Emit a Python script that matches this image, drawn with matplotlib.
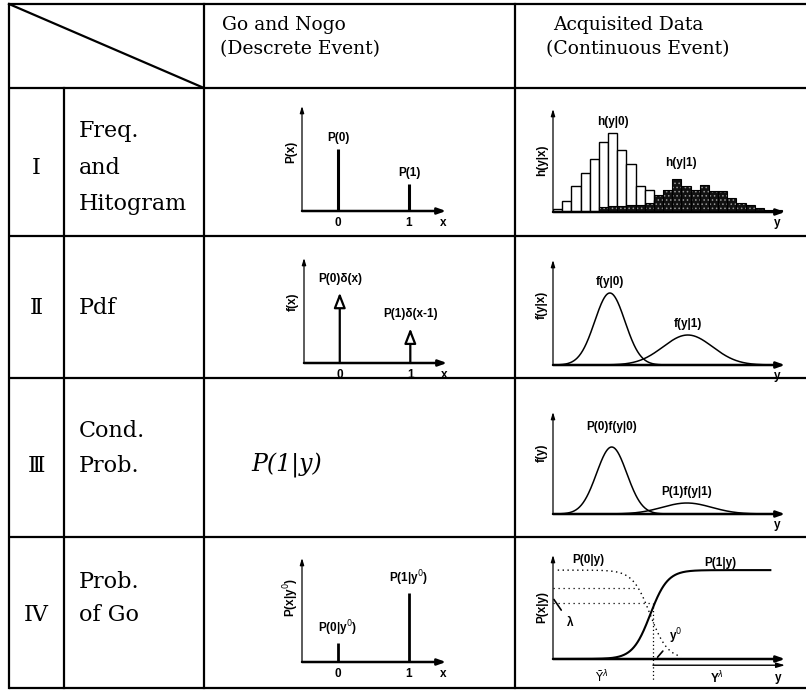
import numpy as np
import matplotlib
matplotlib.use("Agg")
import matplotlib.pyplot as plt

W, H, DPI = 806, 691, 100

# ---------------- data ----------------
header_go = ["Go and Nogo", "(Descrete Event)"]
header_acq = ["Acquisited Data", "(Continuous Event)"]
row_numerals = ["I", "Ⅱ", "Ⅲ", "IV"]
row_labels = [["Freq.", "and", "Hitogram"], ["Pdf"], ["Cond.", "Prob."], ["Prob.", "of Go"]]

go_x = [0, 1]
go_freq = [0.59, 0.26]          # P(0), P(1)
go_delta = [0.67, 0.33]         # P(0)d(x), P(1)d(x-1)
go_post = [0.18, 0.66]          # P(0|y0), P(1|y0)

hist_bins = list(range(25))
hist_h0 = [3, 11, 26, 39, 53, 70, 79, 62, 48, 26, 22, 12, 6, 3, 1, 0, 0, 0, 0, 0, 0, 0, 0, 0, 0]
hist_h1 = [0, 0, 0, 0, 0, 5, 6, 6, 7, 7, 9, 17, 22, 33, 26, 22, 27, 21, 21, 14, 9, 7, 4, 2, 2]

pdf_means = [6.2, 14.7]
pdf_sds = [1.65, 2.7]
pdf_peaks = [72, 30]
joint_means = [6.4, 14.6]
joint_peaks = [67, 11]

post_mid = 10.6                 # centre of the P(1|y) rise
post_width = 0.95               # spread of the rise
post_levels = [0.80, 0.63]      # dotted reference levels (second = lambda)
post_level_ends = [9.2, 10.6]
y_lambda = 10.9

# ---------------- figure ----------------
fig = plt.figure(figsize=(W / DPI, H / DPI), dpi=DPI)
fig.patch.set_facecolor("white")
tab = fig.add_axes([0, 0, 1, 1])
tab.set_xlim(0, W)
tab.set_ylim(H, 0)
tab.axis("off")

SERIF = ["DejaVu Serif", "Noto Sans CJK JP"]
SANS = dict(family=["Liberation Sans", "DejaVu Sans"], fontsize=8.5, fontweight="bold")

LX0, LX1, LX2, LX3, RX = 9, 64, 204, 515, 806
rows_y = [4, 88, 236, 378, 537, 688]
lw_t = 1.6
for yy in rows_y:
    tab.plot([LX0, RX], [yy, yy], color="black", lw=lw_t, solid_capstyle="butt")
for xx, y_start in [(LX0, 4), (LX1, 88), (LX2, 4), (LX3, 4)]:
    tab.plot([xx, xx], [y_start, 688], color="black", lw=lw_t)
tab.plot([LX0, LX2], [4, 88], color="black", lw=lw_t)

# header
tab.text(222, 25, header_go[0], family=SERIF, fontsize=13.5, ha="left", va="center")
tab.text(220, 49, header_go[1], family=SERIF, fontsize=13.5, ha="left", va="center")
tab.text(553, 25, header_acq[0], family=SERIF, fontsize=13.5, ha="left", va="center")
tab.text(546, 49, header_acq[1], family=SERIF, fontsize=13.5, ha="left", va="center")

# row labels
num_y = [168, 308, 466, 615]
label_y = [[131, 168, 204], [308], [431, 466], [582, 615]]
for i in range(4):
    tab.text((LX0 + LX1) / 2, num_y[i], row_numerals[i], family=SERIF, fontsize=16,
             ha="center", va="center")
    for s, yy in zip(row_labels[i], label_y[i]):
        tab.text(79, yy, s, family=SERIF, fontsize=16, ha="left", va="center")

tab.text(287, 465, "P(1|y)", family=SERIF, fontsize=17, style="italic", ha="center", va="center")


def px_axes(l, t, r, b, xlim, ylim):
    ax = fig.add_axes([l / W, 1 - b / H, (r - l) / W, (b - t) / H])
    ax.set_xlim(*xlim)
    ax.set_ylim(*ylim)
    ax.axis("off")
    ax.patch.set_alpha(0)
    ax.annotate("", xy=(1, 0), xytext=(0, 0), xycoords="axes fraction",
                arrowprops=dict(arrowstyle="-|>,head_length=0.5,head_width=0.18",
                                lw=1.8, color="black", shrinkA=0, shrinkB=0))
    ax.annotate("", xy=(0, 1), xytext=(0, 0), xycoords="axes fraction",
                arrowprops=dict(arrowstyle="-|>,head_length=0.4,head_width=0.12",
                                lw=0.9, color="black", shrinkA=0, shrinkB=0))
    return ax


def ylab(ax, s, frac):
    ax.annotate(s, xy=(0, frac), xycoords="axes fraction", xytext=(-11, 0),
                textcoords="offset pixels", rotation=90, ha="center", va="center", **SANS)


def below(ax, x, s, off=-6):
    ax.annotate(s, xy=(x, 0), xytext=(0, off), textcoords="offset pixels",
                ha="center", va="top", annotation_clip=False, **SANS)


GO_XLIM = (-0.507, 1.52)
R_XLIM = (0, 25.3)

# ---- Row I, Go ----
ax = px_axes(302, 106, 446, 211, GO_XLIM, (0, 1))
ax.vlines(go_x, 0, go_freq, color="black", lw=2.2)
for x, v, s in zip(go_x, go_freq, ["P(0)", "P(1)"]):
    ax.annotate(s, xy=(x, v), xytext=(0, 5), textcoords="offset pixels", ha="center", va="bottom", **SANS)
below(ax, 0, "0"); below(ax, 1, "1"); below(ax, 1.48, "x")
ylab(ax, "P(x)", 0.56)

# ---- Row II, Go ----
ax = px_axes(304, 258, 447, 363, GO_XLIM, (0, 1))
for x, v in zip(go_x, go_delta):
    ax.annotate("", xy=(x, v), xytext=(x, 0), xycoords="data",
                arrowprops=dict(arrowstyle="-|>,head_length=0.9,head_width=0.35",
                                lw=1.6, ec="black", fc="white", shrinkA=0, shrinkB=0))
for x, v, s in zip(go_x, go_delta, ["P(0)δ(x)", "P(1)δ(x-1)"]):
    ax.annotate(s, xy=(x, v), xytext=(0, 8), textcoords="offset pixels", ha="center", va="bottom", **SANS)
below(ax, 0, "0"); below(ax, 1, "1"); below(ax, 1.48, "x")
ylab(ax, "f(x)", 0.58)

# ---- Row IV, Go ----
ax = px_axes(302, 558, 446, 662, GO_XLIM, (0, 1))
ax.vlines(go_x, 0, go_post, color="black", lw=2.0)
for x, v, s in zip(go_x, go_post, [r"P(0|y$^0$)", r"P(1|y$^0$)"]):
    ax.annotate(s, xy=(x, v), xytext=(0, 5), textcoords="offset pixels", ha="center", va="bottom", **SANS)
below(ax, 0, "0"); below(ax, 1, "1"); below(ax, 1.48, "x")
ylab(ax, r"P(x|y$^0$)", 0.62)

# ---- Row I, histogram ----
ax = px_axes(553, 109, 785, 212, R_XLIM, (0, 103))
ax.bar(hist_bins, hist_h0, width=1.0, align="edge", color="white", edgecolor="black", lw=1.0)
plt.rcParams["hatch.linewidth"] = 0.6
ax.bar(hist_bins, hist_h1, width=1.0, align="edge", color="#111111", edgecolor="#9a9a9a",
       hatch="....", lw=0)
ax.bar(hist_bins, hist_h1, width=1.0, align="edge", fill=False, edgecolor="black", lw=0.8)
ax.annotate("h(y|0)", xy=(hist_bins[6] + 0.5, hist_h0[6]), xytext=(0, 5), textcoords="offset pixels",
            ha="center", va="bottom", **SANS)
ax.annotate("h(y|1)", xy=(hist_bins[14], hist_h1[13]), xytext=(0, 10), textcoords="offset pixels",
            ha="center", va="bottom", **SANS)
below(ax, 24.4, "y", off=-5)
ylab(ax, "h(y|x)", 0.5)

yy = np.linspace(0, 24.5, 500)

# ---- Row II, pdf ----
ax = px_axes(553, 260, 785, 365, R_XLIM, (0, 105))
for m, s, p in zip(pdf_means, pdf_sds, pdf_peaks):
    ax.plot(yy, p * np.exp(-0.5 * ((yy - m) / s) ** 2), color="black", lw=1.1)
ax.annotate("f(y|0)", xy=(pdf_means[0], pdf_peaks[0]), xytext=(0, 5), textcoords="offset pixels",
            ha="center", va="bottom", **SANS)
ax.annotate("f(y|1)", xy=(pdf_means[1], pdf_peaks[1]), xytext=(0, 5), textcoords="offset pixels",
            ha="center", va="bottom", **SANS)
below(ax, 24.4, "y", off=-5)
ylab(ax, "f(y|x)", 0.57)

# ---- Row III, joint ----
ax = px_axes(553, 412, 785, 514, R_XLIM, (0, 102))
for m, s, p in zip(joint_means, pdf_sds, joint_peaks):
    ax.plot(yy, p * np.exp(-0.5 * ((yy - m) / s) ** 2), color="black", lw=1.1)
ax.annotate("P(0)f(y|0)", xy=(joint_means[0], joint_peaks[0]), xytext=(0, 14), textcoords="offset pixels",
            ha="center", va="bottom", **SANS)
ax.annotate("P(1)f(y|1)", xy=(joint_means[1], joint_peaks[1]), xytext=(0, 5), textcoords="offset pixels",
            ha="center", va="bottom", **SANS)
below(ax, 24.4, "y", off=-5)
ylab(ax, "f(y)", 0.6)

# ---- Row IV, posterior ----
ax = px_axes(553, 555, 785, 659, R_XLIM, (0, 1.17))
yp = np.linspace(0, 23.7, 600)
p1 = 1.0 / (1.0 + np.exp(-(yp - post_mid) / post_width))
ax.plot(yp, p1, color="black", lw=1.5)
m0 = (yp >= 0.5) & (yp <= 14)
ax.plot(yp[m0], 1 - p1[m0], color="black", lw=1.0, ls=(0, (1, 2.5)))
for lev, end in zip(post_levels, post_level_ends):
    ax.plot([0, end], [lev, lev], color="black", lw=0.9, ls=(0, (1, 3)))
ax.plot([y_lambda, y_lambda], [post_levels[1], -0.24], color="black", lw=0.9, ls=(0, (1, 2)), clip_on=False)
ax.annotate("", xy=(R_XLIM[1], -0.07), xytext=(y_lambda, -0.07), xycoords="data",
            arrowprops=dict(arrowstyle="-|>,head_length=0.5,head_width=0.15", lw=1.0,
                            color="black", shrinkA=0, shrinkB=0), annotation_clip=False)
ax.annotate("λ", xy=(0.1, post_levels[1] + 0.04), xytext=(1.9, 0.40), textcoords="data",
            ha="center", va="center", arrowprops=dict(arrowstyle="-", lw=1.2, color="black",
                                                    shrinkA=4, shrinkB=0), **SANS)
ax.annotate(r"y$^0$", xy=(11.4, 0.02), xytext=(13.4, 0.26), textcoords="data",
            ha="center", va="center", arrowprops=dict(arrowstyle="-", lw=1.2, color="black",
                                                    shrinkA=4, shrinkB=0), **SANS)
ax.text(3.8, 1.11, "P(0|y)", ha="center", va="center", clip_on=False, **SANS)
ax.text(18.3, 1.08, "P(1|y)", ha="center", va="center", clip_on=False, **SANS)
ax.text(5.3, -0.21, r"$\bar{\mathrm{Y}}^{\lambda}$", ha="center", va="center", clip_on=False, **SANS)
ax.text(17.9, -0.21, r"Y$^{\lambda}$", ha="center", va="center", clip_on=False, **SANS)
ax.text(24.5, -0.21, "y", ha="center", va="center", clip_on=False, **SANS)
ylab(ax, "P(x|y)", 0.5)

fig.savefig("out.png", dpi=DPI, facecolor="white")
